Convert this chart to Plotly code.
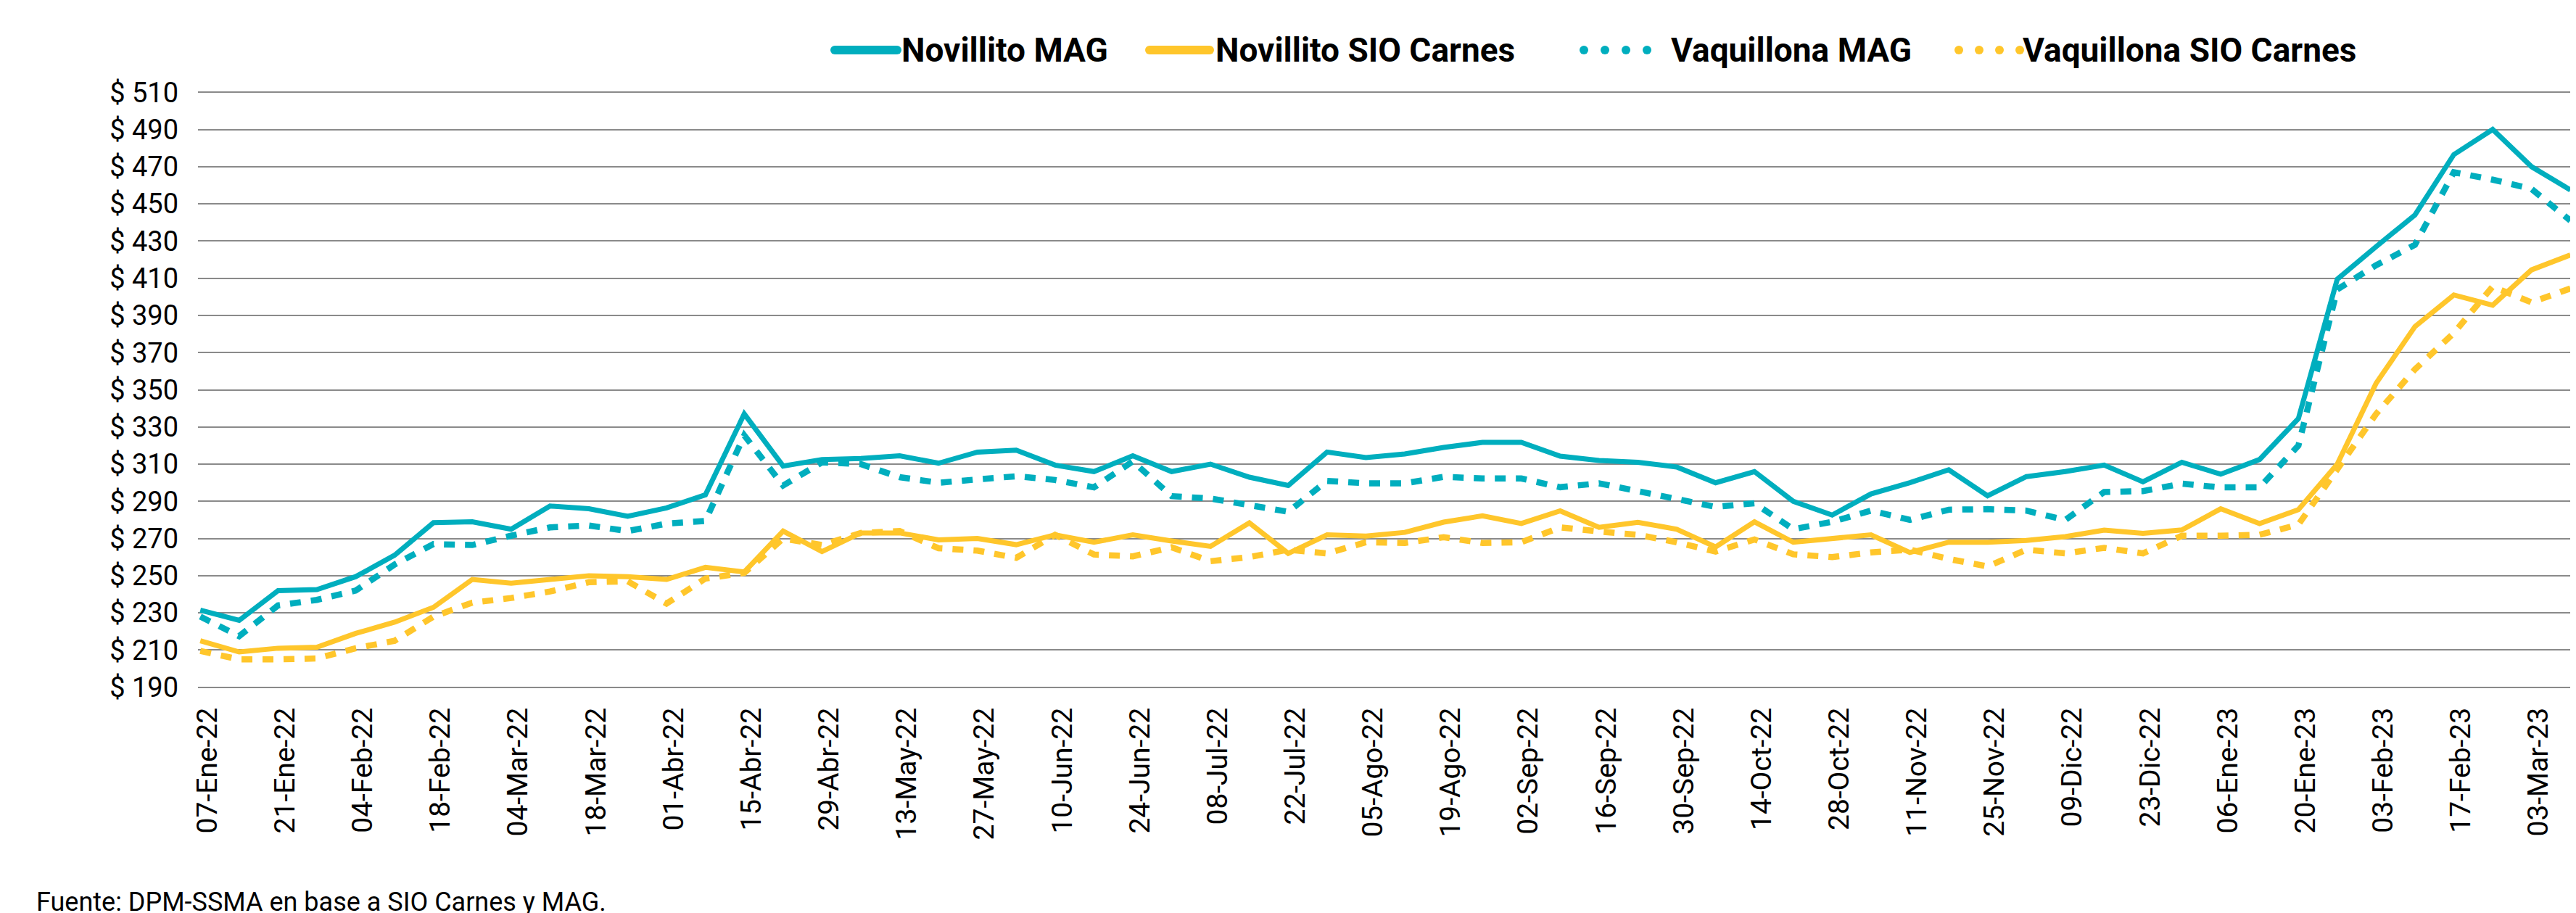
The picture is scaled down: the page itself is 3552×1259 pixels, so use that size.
import plotly.graph_objects as go

# ---------------- data ----------------
semanas = [
    "07-Ene-22", "14-Ene-22", "21-Ene-22", "28-Ene-22", "04-Feb-22", "11-Feb-22", "18-Feb-22", "25-Feb-22",
    "04-Mar-22", "11-Mar-22", "18-Mar-22", "25-Mar-22", "01-Abr-22", "08-Abr-22", "15-Abr-22", "22-Abr-22",
    "29-Abr-22", "06-May-22", "13-May-22", "20-May-22", "27-May-22", "03-Jun-22", "10-Jun-22", "17-Jun-22",
    "24-Jun-22", "01-Jul-22", "08-Jul-22", "15-Jul-22", "22-Jul-22", "29-Jul-22", "05-Ago-22", "12-Ago-22",
    "19-Ago-22", "26-Ago-22", "02-Sep-22", "09-Sep-22", "16-Sep-22", "23-Sep-22", "30-Sep-22", "07-Oct-22",
    "14-Oct-22", "21-Oct-22", "28-Oct-22", "04-Nov-22", "11-Nov-22", "18-Nov-22", "25-Nov-22", "02-Dic-22",
    "09-Dic-22", "16-Dic-22", "23-Dic-22", "30-Dic-22", "06-Ene-23", "13-Ene-23", "20-Ene-23", "27-Ene-23",
    "03-Feb-23", "10-Feb-23", "17-Feb-23", "24-Feb-23", "03-Mar-23", "10-Mar-23",
]

novillito_mag = [
    231.5, 226, 242, 242.5, 249.5, 261, 278.5, 279, 275, 287.5,
    286, 282, 286.5, 293.5, 337, 309, 312.5, 313, 314.5, 310.5,
    316.5, 317.5, 309.5, 306, 314.5, 306, 310, 303, 298.5, 316.5,
    313.5, 315.5, 319, 321.7, 321.7, 314.3, 312, 311, 308.5, 300,
    306, 290, 282.6, 294, 300, 307, 293, 303.3, 306, 309.5,
    300.5, 311, 304.6, 312.5, 334.5, 409.5, 427, 444, 476.5, 490,
    470, 457.5,
]

novillito_sio = [
    215, 209, 211, 211.5, 219, 225, 233, 248, 246, 248,
    250, 249.5, 248, 254.5, 252, 274, 263, 273, 273, 269.3,
    270, 266.7, 272, 268, 272, 268.7, 265.8, 278.4, 262, 272,
    271.3, 273.3, 278.8, 282.2, 278.1, 284.9, 276, 278.7, 275, 265.5,
    279, 268, 270, 272, 262.5, 268, 268, 269, 271, 274.5,
    272.8, 274.6, 286, 278, 285.5, 310, 353.5, 384, 401, 395.5,
    414.5, 422.5,
]

vaquillona_mag = [
    228, 217.5, 234, 237, 242, 256, 267, 266.5, 271.5, 276,
    277, 274, 278, 279.5, 325.5, 298.5, 311, 310, 303, 300,
    301.8, 303.5, 301.5, 297.5, 311.5, 292.8, 291.5, 288, 284.4, 301,
    299.7, 299.7, 303.2, 302.3, 302.3, 297.6, 299.7, 295.5, 291, 287,
    289, 275, 279, 285, 280, 285.5, 285.8, 285, 280, 295,
    295.5, 299.5, 297.5, 297.5, 320, 404, 417, 428, 467, 463,
    458, 441,
]

vaquillona_sio = [
    209.5, 205, 205, 205.5, 211, 215, 228, 235.5, 238, 241.5,
    246.5, 247, 235, 248.5, 251.5, 270, 266.5, 273, 274, 264.8,
    263.5, 259.6, 272, 261.4, 260.4, 265.3, 257.8, 260, 264, 262,
    268, 267.6, 270.7, 267.6, 268, 276, 273.8, 272, 268, 263,
    269.5, 261.5, 260, 262.5, 264, 259, 255, 264, 262, 265,
    262, 271.5, 271.5, 272, 277.5, 307.5, 337, 361, 380.5, 405.5,
    397, 404.5,
]

etiquetas_x = semanas[::2]
y_ticks = list(range(190, 511, 20))
fuente = "Fuente: DPM-SSMA en base a SIO Carnes y MAG."

# ---------------- style ----------------
CYAN = "#00AEBE"
YELLOW = "#FFC62B"
W, H = 3552, 1259
ML, MR, MT, MB = 265, 12, 118, 318
PW, PH = W - ML - MR, H - MT - MB
FONT = "Roboto, Arial, sans-serif"


def px_x(p):
    return (p - ML) / PW


def px_y(p):
    return (H - MB - p) / PH


fig = go.Figure()
series = [
    ("Novillito MAG", novillito_mag, CYAN, "solid", 7),
    ("Novillito SIO Carnes", novillito_sio, YELLOW, "solid", 7),
    ("Vaquillona MAG", vaquillona_mag, CYAN, "15px,14px", 8.5),
    ("Vaquillona SIO Carnes", vaquillona_sio, YELLOW, "15px,14px", 8.5),
]
for name, vals, col, dash, lw in series:
    fig.add_trace(go.Scatter(
        x=semanas, y=vals, name=name, mode="lines",
        line=dict(color=col, width=lw, dash=dash),
        showlegend=False,
    ))

# ---------------- manual legend ----------------
shapes = []
annotations = []
leg_y = px_y(61)
legend_items = [
    ("Novillito MAG", CYAN, "solid", 1137, 1235, 1233),
    ("Novillito SIO Carnes", YELLOW, "solid", 1571, 1666, 1666),
    ("Vaquillona MAG", CYAN, "dots", 2170, 2269, 2294),
    ("Vaquillona SIO Carnes", YELLOW, "dots", 2687, 2783, 2779),
]
for name, col, kind, x0, x1, tx in legend_items:
    if kind == "solid":
        shapes.append(dict(type="line", xref="paper", yref="paper",
                           x0=px_x(x0 + 6), x1=px_x(x1 - 6), y0=leg_y, y1=leg_y,
                           line=dict(color=col, width=12)))
        for cx in (x0 + 6, x1 - 6):
            shapes.append(dict(type="circle", xref="paper", yref="paper",
                               xsizemode="pixel", ysizemode="pixel",
                               xanchor=px_x(cx), yanchor=leg_y,
                               x0=-6, x1=6, y0=-6, y1=6,
                               fillcolor=col, line=dict(width=0)))
    else:
        step = (x1 - x0 - 12) / 3
        for k in range(4):
            cx = x0 + 6 + k * step
            shapes.append(dict(type="circle", xref="paper", yref="paper",
                               xsizemode="pixel", ysizemode="pixel",
                               xanchor=px_x(cx), yanchor=leg_y,
                               x0=-6, x1=6, y0=-6, y1=6,
                               fillcolor=col, line=dict(width=0)))
    annotations.append(dict(text=name, xref="paper", yref="paper",
                            x=px_x(tx), y=leg_y, xanchor="left", yanchor="middle",
                            showarrow=False,
                            font=dict(family=FONT, size=46, color="#000000", weight="bold")))

annotations.append(dict(text=fuente, xref="paper", yref="paper",
                        x=px_x(40), y=px_y(1236), xanchor="left", yanchor="middle",
                        showarrow=False,
                        font=dict(family=FONT, size=36, color="#000000")))

fig.update_layout(
    width=W, height=H,
    margin=dict(l=ML, r=MR, t=MT, b=MB, pad=0),
    paper_bgcolor="white", plot_bgcolor="white",
    shapes=shapes, annotations=annotations,
    showlegend=False,
)
fig.update_xaxes(
    type="category", categoryorder="array", categoryarray=semanas,
    range=[-0.06, 61.07],
    tickmode="array", tickvals=etiquetas_x, ticktext=etiquetas_x,
    tickangle=-90, ticks="", ticklabelstandoff=18, ticklabelshift=10,
    tickfont=dict(family=FONT, size=39, color="#000000"),
    showgrid=False, zeroline=False, showline=False,
)
fig.update_yaxes(
    range=[189.5, 510.5],
    tickmode="array", tickvals=y_ticks, ticktext=[f"$ {v}" for v in y_ticks],
    ticks="", ticklabelstandoff=26,
    tickfont=dict(family=FONT, size=38, color="#000000"),
    showgrid=True, gridcolor="#8a8a8a", gridwidth=2,
    zeroline=False, showline=False,
)

fig.write_html("out.html")
